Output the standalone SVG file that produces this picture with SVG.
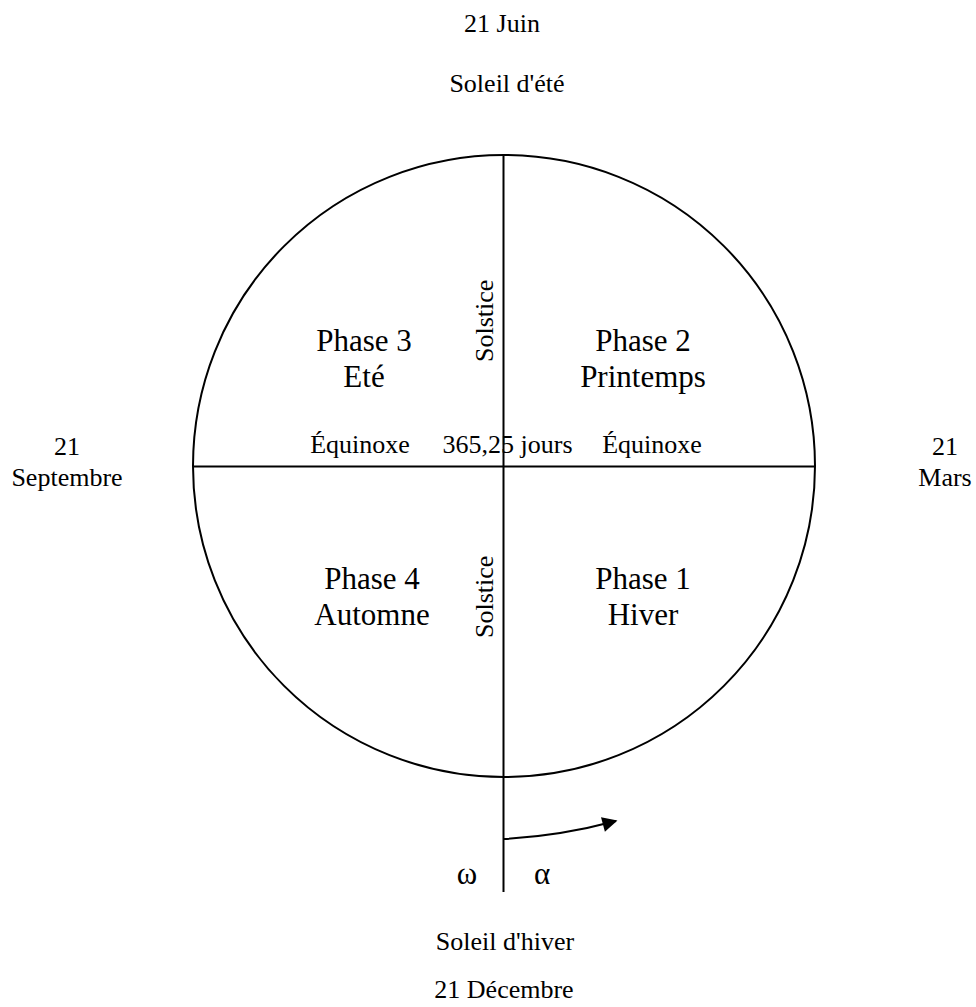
<svg xmlns="http://www.w3.org/2000/svg" width="976" height="1007" viewBox="0 0 976 1007">
  <style>
    .lbl { font-family: "Liberation Serif", "Times New Roman", serif; font-size: 26px; fill: #000; text-anchor: middle; }
    .greek { font-family: "Liberation Serif", "Times New Roman", serif; font-size: 31px; fill: #000; text-anchor: middle; }
    .phase { font-family: "Liberation Serif", "Times New Roman", serif; font-size: 31px; fill: #000; text-anchor: middle; }
    .vert { font-family: "Liberation Serif", "Times New Roman", serif; font-size: 26px; fill: #000; }
    .ln { stroke: #000; stroke-width: 2; fill: none; }
  </style>
  <defs>
    <marker id="head" viewBox="0 0 10 10" refX="9" refY="5" markerWidth="8.5" markerHeight="7.5" markerUnits="strokeWidth" orient="auto">
      <path d="M0,0 L10,5 L0,10 Z" fill="#000"/>
    </marker>
  </defs>

  <rect width="976" height="1007" fill="#fff"/>

  <!-- year wheel -->
  <g id="wheel">
    <circle class="ln" cx="504" cy="466" r="311"/>
  </g>

  <g id="connectors">
    <line class="ln" x1="503.5" y1="155" x2="503.5" y2="892"/>
    <line class="ln" x1="193" y1="466.5" x2="815" y2="466.5"/>
    <path class="ln" d="M504,839 Q560,836 616,821" marker-end="url(#head)"/>
  </g>

  <!-- cardinal dates -->
  <g id="top">
    <text class="lbl" x="502" y="32">21 Juin</text>
    <text class="lbl" x="507" y="92">Soleil d'été</text>
  </g>
  <g id="left">
    <text class="lbl" x="67" y="455">21</text>
    <text class="lbl" x="67" y="486">Septembre</text>
  </g>
  <g id="right">
    <text class="lbl" x="945" y="455">21</text>
    <text class="lbl" x="945" y="486">Mars</text>
  </g>
  <g id="bottom">
    <text class="lbl" x="505" y="950">Soleil d'hiver</text>
    <text class="lbl" x="504" y="998">21 Décembre</text>
  </g>

  <!-- axis labels -->
  <g id="axis-labels">
    <text class="lbl" x="360" y="453">Équinoxe</text>
    <text class="lbl" x="507.5" y="453">365,25 jours</text>
    <text class="lbl" x="652" y="453">Équinoxe</text>
    <text class="vert" transform="translate(493,362) rotate(-90)">Solstice</text>
    <text class="vert" transform="translate(493,638) rotate(-90)">Solstice</text>
    <text class="greek" x="467" y="884">ω</text>
    <text class="greek" x="542" y="884">α</text>
  </g>

  <!-- seasons -->
  <g id="phase3">
    <text class="phase" x="364" y="351">Phase 3</text>
    <text class="phase" x="364" y="387">Eté</text>
  </g>
  <g id="phase2">
    <text class="phase" x="643" y="351">Phase 2</text>
    <text class="phase" x="643" y="387">Printemps</text>
  </g>
  <g id="phase4">
    <text class="phase" x="372" y="589">Phase 4</text>
    <text class="phase" x="372" y="625">Automne</text>
  </g>
  <g id="phase1">
    <text class="phase" x="643" y="589">Phase 1</text>
    <text class="phase" x="643" y="625">Hiver</text>
  </g>
</svg>
